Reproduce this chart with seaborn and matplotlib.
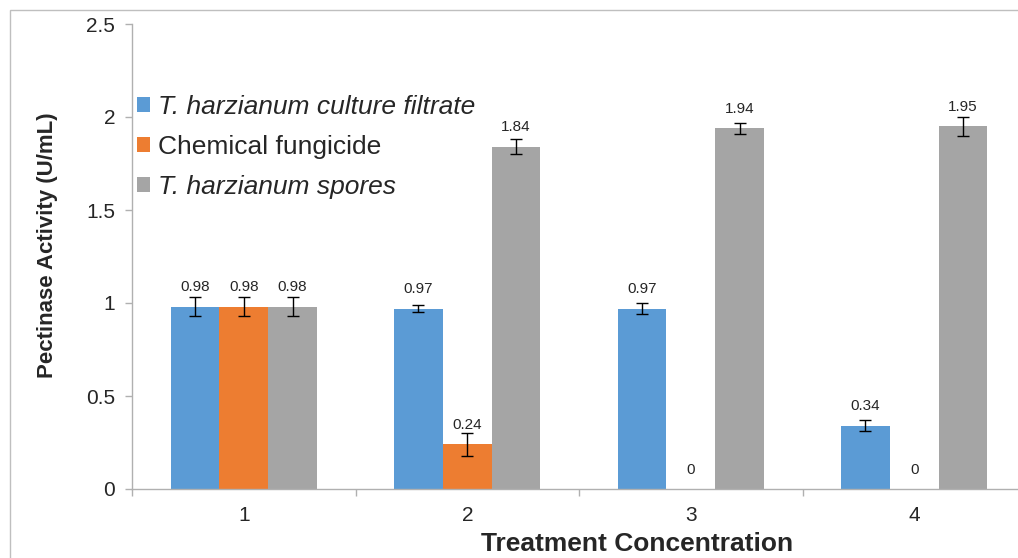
import numpy as np
import pandas as pd
import seaborn as sns
from matplotlib import pyplot as plt
from matplotlib.patches import Rectangle
from matplotlib.ticker import FuncFormatter, FixedLocator

# Data
concentrations = ['1', '2', '3', '4']
treatments = ['T. harzianum culture filtrate', 'Chemical fungicide', 'T. harzianum spores']
culture_filtrate = [0.98, 0.97, 0.97, 0.34]
chemical_fungicide = [0.98, 0.24, 0, 0]
spores = [0.98, 1.84, 1.94, 1.95]
culture_filtrate_err = [0.05, 0.02, 0.03, 0.03]
chemical_fungicide_err = [0.05, 0.06, 0, 0]
spores_err = [0.05, 0.04, 0.03, 0.05]

colors = ['#5B9BD5', '#ED7D31', '#A5A5A5']

values = [culture_filtrate, chemical_fungicide, spores]
errors = [culture_filtrate_err, chemical_fungicide_err, spores_err]

df = pd.DataFrame({
    'Concentration': concentrations * 3,
    'Treatment': np.repeat(treatments, len(concentrations)),
    'Activity': culture_filtrate + chemical_fungicide + spores,
})

sns.set_style('white')
plt.rcParams['font.family'] = ['Liberation Sans', 'DejaVu Sans']

# Plot
fig = plt.figure(figsize=(10.18, 5.58), dpi=100)
ax = fig.add_axes([132/1018, 1 - 489/558, 894/1018, 465/558])

sns.barplot(data=df, x='Concentration', y='Activity', hue='Treatment', hue_order=treatments,
            order=concentrations, palette=colors, saturation=1, width=0.655, gap=0,
            errorbar=None, linewidth=0, ax=ax)

# Error bars and value labels
for cont, vals, errs in zip(ax.containers, values, errors):
    xs = [p.get_x() + p.get_width()/2 for p in cont]
    for x, v, e in zip(xs, vals, errs):
        if e > 0:
            ax.errorbar(x, v, yerr=e, fmt='none', ecolor='black', elinewidth=1,
                        capsize=4, capthick=1, zorder=3)
    ax.bar_label(cont, labels=[f'{v:g}' for v in vals], padding=9, fontsize=11)

# Plot settings
ax.set_xlim(-0.5, 3.5)
ax.set_ylim(0, 2.5)
ax.yaxis.set_major_formatter(FuncFormatter(lambda v, p: f'{v:g}'))
ax.set_yticks(np.arange(0, 2.51, 0.5))
ax.xaxis.set_minor_locator(FixedLocator([-0.5, 0.5, 1.5, 2.5, 3.5]))
ax.tick_params(axis='x', which='major', length=0, pad=12, labelsize=15)
ax.tick_params(axis='x', which='minor', length=5, width=1, color='#B0B0B0', direction='out', bottom=True)
ax.tick_params(axis='y', length=5, width=1, color='#B0B0B0', direction='out', pad=7, labelsize=15, left=True)

for side in ['top', 'right']:
    ax.spines[side].set_visible(False)
for side in ['left', 'bottom']:
    ax.spines[side].set_color('#B0B0B0')
    ax.spines[side].set_linewidth(1)

ax.set_xlabel('Treatment Concentration', fontsize=19, fontweight='bold')
ax.set_ylabel('Pectinase Activity (U/mL)', fontsize=16, fontweight='bold')
ax.xaxis.set_label_coords(0.565, -0.093)
ax.yaxis.set_label_coords(-0.083, 0.525)

# Legend
old = ax.get_legend()
handles = old.legend_handles
labels = [t.get_text() for t in old.get_texts()]
old.remove()
leg = ax.legend(handles, labels, loc='upper left', bbox_to_anchor=(0.0, 0.858), frameon=False,
                fontsize=19, handlelength=0.5, handleheight=0.5, handletextpad=0.3,
                labelspacing=0.6, borderpad=0.2, borderaxespad=0)
for t in leg.get_texts():
    if t.get_text().startswith('T.'):
        t.set_fontstyle('italic')

# Chart area border
fig.add_artist(Rectangle((10/1018, -0.2), 1.2, 1.2 - 10/558, transform=fig.transFigure,
                         fill=False, edgecolor='#BFBFBF', linewidth=1, clip_on=False))

plt.savefig('out.png', dpi=100)
